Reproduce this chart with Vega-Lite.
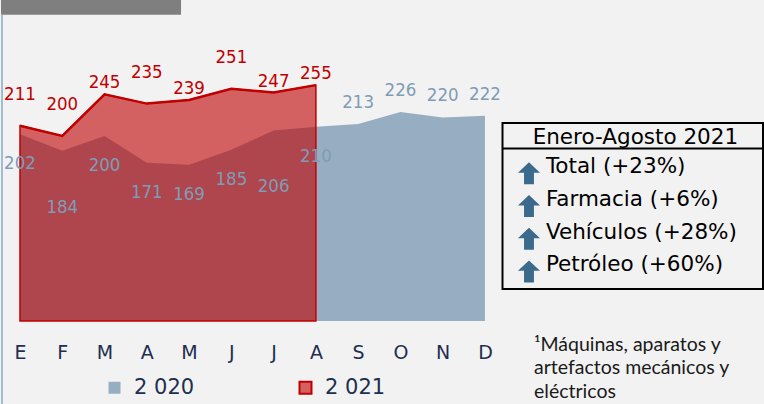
{
  "$schema": "https://vega.github.io/schema/vega-lite/v6.json",
  "background": "#F2F2F2",
  "padding": 0,
  "config": {"view": {"stroke": null}, "font": "DejaVu Sans"},
  "datasets": {
    "serie": [
      {"mes": "E", "m": 1, "year": "2 020", "v": 202},
      {"mes": "F", "m": 2, "year": "2 020", "v": 184},
      {"mes": "M", "m": 3, "year": "2 020", "v": 200},
      {"mes": "A", "m": 4, "year": "2 020", "v": 171},
      {"mes": "M", "m": 5, "year": "2 020", "v": 169},
      {"mes": "J", "m": 6, "year": "2 020", "v": 185},
      {"mes": "J", "m": 7, "year": "2 020", "v": 206},
      {"mes": "A", "m": 8, "year": "2 020", "v": 210},
      {"mes": "S", "m": 9, "year": "2 020", "v": 213},
      {"mes": "O", "m": 10, "year": "2 020", "v": 226},
      {"mes": "N", "m": 11, "year": "2 020", "v": 220},
      {"mes": "D", "m": 12, "year": "2 020", "v": 222},
      {"mes": "E", "m": 1, "year": "2 021", "v": 211},
      {"mes": "F", "m": 2, "year": "2 021", "v": 200},
      {"mes": "M", "m": 3, "year": "2 021", "v": 245},
      {"mes": "A", "m": 4, "year": "2 021", "v": 235},
      {"mes": "M", "m": 5, "year": "2 021", "v": 239},
      {"mes": "J", "m": 6, "year": "2 021", "v": 251},
      {"mes": "J", "m": 7, "year": "2 021", "v": 247},
      {"mes": "A", "m": 8, "year": "2 021", "v": 255}
    ],
    "items": [
      {"row": 1, "item": "Total (+23%)"},
      {"row": 2, "item": "Farmacia (+6%)"},
      {"row": 3, "item": "Vehículos (+28%)"},
      {"row": 4, "item": "Petróleo (+60%)"}
    ],
    "header": [{"text": "Enero-Agosto 2021"}],
    "note": [{"text": "¹Máquinas, aparatos y\nartefactos mecánicos y\neléctricos"}],
    "blank": [{}]
  },
  "bounds": "flush",
  "spacing": 10,
  "hconcat": [
    {
      "width": 490,
      "height": 321,
      "layer": [
        {
          "data": {"name": "blank"},
          "mark": {"type": "rect", "color": "#7F7F7F"},
          "encoding": {
            "x": {"datum": 0.5505, "type": "quantitative", "scale": {"domain": [0.5505, 12.143], "nice": false, "zero": false},
              "axis": {"values": [1,2,3,4,5,6,7,8,9,10,11,12], "labelExpr": "['E','F','M','A','M','J','J','A','S','O','N','D'][datum.value - 1]", "domain": false, "ticks": false, "tickSize": 0, "grid": false, "labelFontSize": 19, "labelColor": "#1F2F4F", "labelFont": "DejaVu Sans", "labelPadding": 22, "title": null, "labelFlush": false, "labelOverlap": false}},
            "x2": {"datum": 4.81},
            "y": {"datum": 331, "type": "quantitative", "scale": {"domain": [0, 347], "nice": false, "zero": true}, "axis": null},
            "y2": {"datum": 347}
          }
        },
        {
          "data": {"name": "blank"},
          "mark": {"type": "rule", "color": "#A3BCD3", "strokeWidth": 2},
          "encoding": {
            "x": {"datum": 0.574, "type": "quantitative"},
            "y": {"datum": 331, "type": "quantitative"},
            "y2": {"datum": -90}
          }
        },
        {
          "data": {"name": "serie"},
          "transform": [{"filter": "datum.year === '2 020'"}],
          "mark": {"type": "area"},
          "encoding": {
            "x": {"field": "m", "type": "quantitative"},
            "y": {"field": "v", "type": "quantitative"},
            "color": {"field": "year", "type": "nominal",
              "scale": {"domain": ["2 020", "2 021"], "range": ["#97AEC2", "#D66060"]},
              "legend": {"orient": "none", "legendX": 103, "legendY": 377, "direction": "horizontal", "title": null,
                "symbolType": "square", "symbolSize": 144, "labelFontSize": 21, "labelFont": "DejaVu Sans", "labelColor": "#1F2F4F",
                "labelOffset": 9, "columnPadding": 100, "padding": 0,
                "encode": {"symbols": {"update": {"stroke": {"signal": "datum.value === '2 021' ? '#C00000' : 'transparent'"}, "strokeWidth": {"value": 2}, "opacity": {"value": 1}}}}}
            }
          }
        },
        {
          "data": {"name": "serie"},
          "transform": [{"filter": "datum.year === '2 021'"}],
          "mark": {"type": "area", "fill": "#C00000", "fillOpacity": 0.6, "stroke": "#C00000", "strokeWidth": 1.5},
          "encoding": {
            "x": {"field": "m", "type": "quantitative"},
            "y": {"field": "v", "type": "quantitative"}
          }
        },
        {
          "data": {"name": "serie"},
          "transform": [{"filter": "datum.year === '2 021'"}],
          "mark": {"type": "line", "color": "#C00000", "strokeWidth": 2.5},
          "encoding": {
            "x": {"field": "m", "type": "quantitative"},
            "y": {"field": "v", "type": "quantitative"}
          }
        },
        {
          "data": {"name": "serie"},
          "transform": [{"filter": "datum.year === '2 021' && indexof([1,2,4,6], datum.m) >= 0"}],
          "mark": {"type": "text", "color": "#C00000", "fontSize": 18.5, "font": "DejaVu Sans Condensed", "dy": -32, "baseline": "middle"},
          "encoding": {
            "x": {"field": "m", "type": "quantitative"},
            "y": {"field": "v", "type": "quantitative"},
            "text": {"field": "v", "type": "quantitative"}
          }
        },
        {
          "data": {"name": "serie"},
          "transform": [{"filter": "datum.year === '2 021' && indexof([3,5,7,8], datum.m) >= 0"}],
          "mark": {"type": "text", "color": "#C00000", "fontSize": 18.5, "font": "DejaVu Sans Condensed", "dy": -12, "baseline": "middle"},
          "encoding": {
            "x": {"field": "m", "type": "quantitative"},
            "y": {"field": "v", "type": "quantitative"},
            "text": {"field": "v", "type": "quantitative"}
          }
        },
        {
          "data": {"name": "serie"},
          "transform": [{"filter": "datum.year === '2 020' && indexof([2,7], datum.m) >= 0"}],
          "mark": {"type": "text", "color": "#7F9CB6", "fontSize": 18.5, "font": "DejaVu Sans Condensed", "dy": 56, "baseline": "middle"},
          "encoding": {
            "x": {"field": "m", "type": "quantitative"},
            "y": {"field": "v", "type": "quantitative"},
            "text": {"field": "v", "type": "quantitative"}
          }
        },
        {
          "data": {"name": "serie"},
          "transform": [{"filter": "datum.year === '2 020' && indexof([1,3,4,5,6,8], datum.m) >= 0"}],
          "mark": {"type": "text", "color": "#7F9CB6", "fontSize": 18.5, "font": "DejaVu Sans Condensed", "dy": 29, "baseline": "middle"},
          "encoding": {
            "x": {"field": "m", "type": "quantitative"},
            "y": {"field": "v", "type": "quantitative"},
            "text": {"field": "v", "type": "quantitative"}
          }
        },
        {
          "data": {"name": "serie"},
          "transform": [{"filter": "datum.year === '2 020' && datum.m >= 9"}],
          "mark": {"type": "text", "color": "#7F9CB6", "fontSize": 18.5, "font": "DejaVu Sans Condensed", "dy": -22, "baseline": "middle"},
          "encoding": {
            "x": {"field": "m", "type": "quantitative"},
            "y": {"field": "v", "type": "quantitative"},
            "text": {"field": "v", "type": "quantitative"}
          }
        }
      ]
    },
    {
      "width": 264,
      "height": 404,
      "layer": [
        {
          "data": {"name": "blank"},
          "mark": {"type": "rect", "filled": false, "stroke": "#000000", "strokeWidth": 2},
          "encoding": {
            "x": {"datum": 0.0057, "type": "quantitative", "scale": {"domain": [0, 1], "nice": false, "zero": false}, "axis": null},
            "x2": {"datum": 0.9924},
            "y": {"datum": -0.54, "type": "quantitative", "scale": {"domain": [-4.3, 8.055], "reverse": true, "nice": false, "zero": false}, "axis": null},
            "y2": {"datum": 4.54}
          }
        },
        {
          "data": {"name": "blank"},
          "mark": {"type": "rule", "color": "#000000", "strokeWidth": 2},
          "encoding": {
            "x": {"datum": 0.0057, "type": "quantitative"},
            "x2": {"datum": 0.9924},
            "y": {"datum": 0.242, "type": "quantitative"}
          }
        },
        {
          "data": {"name": "header"},
          "mark": {"type": "text", "fontSize": 21.5, "font": "DejaVu Sans", "color": "#000000", "align": "center", "baseline": "alphabetic"},
          "encoding": {
            "x": {"datum": 0.509, "type": "quantitative"},
            "y": {"datum": 0.104, "type": "quantitative"},
            "text": {"field": "text", "type": "nominal"}
          }
        },
        {
          "data": {"name": "items"},
          "mark": {"type": "point", "filled": true, "color": "#3B6A8C", "opacity": 1, "size": 484, "shape": "M0,-1L1,-0.05L0.45,-0.05L0.45,1L-0.45,1L-0.45,-0.05L-1,-0.05Z"},
          "encoding": {
            "x": {"datum": 0.106, "type": "quantitative"},
            "y": {"field": "row", "type": "quantitative"}
          }
        },
        {
          "data": {"name": "items"},
          "mark": {"type": "text", "fontSize": 21.5, "font": "DejaVu Sans", "color": "#000000", "align": "left", "baseline": "alphabetic"},
          "encoding": {
            "x": {"datum": 0.17, "type": "quantitative"},
            "y": {"field": "row", "type": "quantitative"},
            "text": {"field": "item", "type": "nominal"}
          }
        },
        {
          "data": {"name": "note"},
          "mark": {"type": "text", "fontSize": 19.5, "font": "Lato", "color": "#1A1A1A", "align": "left", "baseline": "alphabetic", "lineBreak": "\n", "lineHeight": 23.5},
          "encoding": {
            "x": {"datum": 0.125, "type": "quantitative"},
            "y": {"datum": 6.434, "type": "quantitative"},
            "text": {"field": "text", "type": "nominal"}
          }
        }
      ]
    }
  ]
}
